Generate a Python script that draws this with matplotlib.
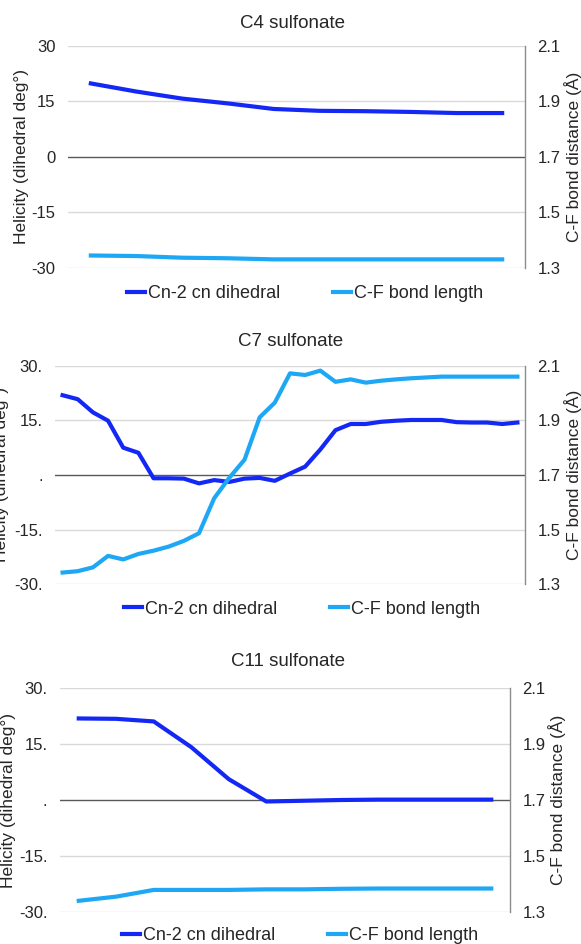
import matplotlib.pyplot as plt

#%% values
c4_dihedral = [19.8, 17.6, 15.7, 14.4, 12.9, 12.4, 12.3, 12.1, 11.8, 11.8]
c4_bond = [1.344, 1.342, 1.336, 1.334, 1.330, 1.330, 1.330, 1.330, 1.330, 1.330]

c7_dihedral = [21.9, 20.8, 17.2, 14.9, 7.5, 6.1, -0.9, -0.9, -1.0, -2.3,
               -1.4, -1.9, -1.0, -0.8, -1.6, 0.4, 2.3, 7.0, 12.3, 14.0,
               14.0, 14.6, 14.9, 15.1, 15.1, 15.1, 14.5, 14.4, 14.4, 14.0, 14.4]
c7_bond = [1.343, 1.348, 1.362, 1.404, 1.391, 1.411, 1.423, 1.438, 1.459, 1.487,
           1.615, 1.690, 1.756, 1.911, 1.965, 2.072, 2.066, 2.082, 2.041, 2.050,
           2.038, 2.045, 2.050, 2.054, 2.057, 2.060, 2.060, 2.060, 2.060, 2.060, 2.060]

c11_dihedral = [21.9, 21.8, 21.1, 14.2, 5.6, -0.4, -0.2, 0.0, 0.1, 0.1, 0.1, 0.1]
c11_bond = [1.339, 1.354, 1.378, 1.378, 1.378, 1.380, 1.380, 1.382, 1.383, 1.383, 1.383, 1.383]

titles = ["C4 sulfonate", "C7 sulfonate", "C11 sulfonate"]
left_ticks = [-30, -15, 0, 15, 30]
left_labels_plain = ["-30", "-15", "0", "15", "30"]
left_labels_dot = ["-30.", "-15.", ".", "15.", "30."]
right_ticks = [1.3, 1.5, 1.7, 1.9, 2.1]
right_labels = ["1.3", "1.5", "1.7", "1.9", "2.1"]

plt.rcParams["font.family"] = ["Liberation Sans", "DejaVu Sans"]

W, H = 581, 944
dark = "#1428f5"
light = "#1ea7f4"
grid_c = "#d9d9d9"


def px_axes(fig, left, right, top, bottom):
    return fig.add_axes([left / W, 1 - bottom / H, (right - left) / W, (bottom - top) / H])


def get_panel(fig, box, dihedral, bond, title, ylabels, title_xy, legend_xy, ylab_x, rlab_x):
    left, right, top, bottom = box
    ax = px_axes(fig, left, right, top, bottom)
    x = list(range(len(dihedral)))
    ax.set_xlim(-0.5, len(x) - 0.5)
    ax.set_ylim(-30, 30)
    ax.set_yticks(left_ticks)
    ax.set_yticklabels(ylabels)
    ax.set_xticks([])
    for t in left_ticks:
        if t == 0:
            ax.axhline(t, color="#595959", lw=1.0, zorder=1)
        else:
            ax.axhline(t, color=grid_c, lw=1.0, zorder=0)
    for s in ["left", "top", "bottom", "right"]:
        ax.spines[s].set_visible(False)
    ax.tick_params(axis="y", length=0, pad=9, labelsize=12, colors="#262626")
    l1, = ax.plot(x, dihedral, color=dark, lw=3, solid_joinstyle="round", zorder=3)

    ax2 = ax.twinx()
    ax2.set_ylim(1.3, 2.1)
    ax2.set_yticks(right_ticks)
    ax2.set_yticklabels(right_labels)
    for s in ["left", "top", "bottom"]:
        ax2.spines[s].set_visible(False)
    ax2.spines["right"].set_color("#8c8c8c")
    ax2.spines["right"].set_linewidth(1.0)
    ax2.tick_params(axis="y", length=0, pad=9, labelsize=12, colors="#262626")
    l2, = ax2.plot(x, bond, color=light, lw=3, solid_joinstyle="round", zorder=3)

    fig.text(title_xy[0] / W, 1 - title_xy[1] / H, title, ha="center", va="center",
             fontsize=13.5, color="#262626")
    ymid = 1 - (top + bottom) / 2 / H
    fig.text(ylab_x / W, ymid, "Helicity (dihedral deg°)", rotation=90,
             ha="center", va="center", fontsize=12.5, color="#262626")
    fig.text(rlab_x / W, ymid, "C-F bond distance (Å)", rotation=90,
             ha="center", va="center", fontsize=12.5, color="#262626")
    fig.legend([l1, l2], ["Cn-2 cn dihedral", "C-F bond length"], loc="center",
               bbox_to_anchor=(legend_xy[0] / W, 1 - legend_xy[1] / H), ncol=2,
               frameon=False, fontsize=13, handlelength=1.0, handletextpad=0.15,
               columnspacing=2.9, labelcolor="#262626")
    return ax


#%%
fig = plt.figure(figsize=(W / 100, H / 100), dpi=100)
get_panel(fig, (68, 525, 45.7, 267.7), c4_dihedral, c4_bond, titles[0],
          left_labels_plain, (292, 23), (305, 294), 22, 573)
get_panel(fig, (55, 525, 365.7, 584.3), c7_dihedral, c7_bond, titles[1],
          left_labels_dot, (291, 341), (302, 609), 2, 573)
get_panel(fig, (60, 510, 688.3, 911.7), c11_dihedral, c11_bond, titles[2],
          left_labels_dot, (288, 662), (300, 936), 9, 557)
fig.savefig("out.png", dpi=100)
